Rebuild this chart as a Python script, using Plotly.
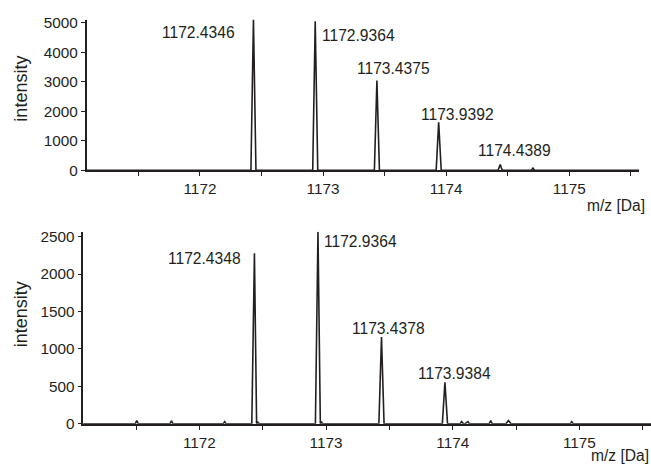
import plotly.graph_objects as go

# ---- data ----
top_mz = [1171.08, 1172.414, 1172.4346, 1172.455, 1172.916, 1172.9364, 1172.957,
          1173.417, 1173.4375, 1173.458, 1173.919, 1173.9392, 1173.960,
          1174.422, 1174.4389, 1174.456, 1174.692, 1174.705, 1174.718, 1175.57]
top_int = [0, 0, 5109, 0, 0, 5053, 0,
           0, 3042, 0, 0, 1625, 0,
           0, 198, 0, 0, 76, 0, 0]

bot_mz = [1171.08, 1171.494, 1171.506, 1171.518, 1171.768, 1171.78, 1171.792,
          1172.188, 1172.2, 1172.212, 1172.414, 1172.4348, 1172.452, 1172.462, 1172.472,
          1172.916, 1172.9364, 1172.955, 1172.965, 1172.975,
          1173.417, 1173.4378, 1173.458, 1173.918, 1173.9384, 1173.959,
          1174.058, 1174.07, 1174.085, 1174.095, 1174.12, 1174.132,
          1174.288, 1174.3, 1174.312, 1174.42, 1174.44, 1174.46,
          1174.928, 1174.94, 1174.952, 1175.57]
bot_int = [0, 0, 45, 0, 0, 40, 0,
           0, 30, 0, 0, 2277, 0, 20, 0,
           0, 2564, 0, 20, 0,
           0, 1160, 0, 0, 554, 0,
           0, 30, 0, 0, 30, 0,
           0, 45, 0, 0, 45, 0,
           0, 30, 0, 0]

top_labels = ["1172.4346", "1172.9364", "1173.4375", "1173.9392", "1174.4389"]
top_label_x = [1172.30, 1172.976, 1173.572, 1174.096, 1174.557]
top_label_y = [4680, 4558, 3438, 1902, 659]
top_label_anchor = ["right", "left", "center", "center", "center"]

bot_labels = ["1172.4348", "1172.9364", "1173.4378", "1173.9384"]
bot_label_x = [1172.343, 1172.966, 1173.496, 1174.014]
bot_label_y = [2208, 2442, 1278, 671]
bot_label_anchor = ["right", "left", "center", "center"]

x_tickvals = [1171.5, 1172, 1172.5, 1173, 1173.5, 1174, 1174.5, 1175, 1175.5]
x_ticktext = ["", "1172", "", "1173", "", "1174", "", "1175", ""]

INK = "#231F20"
FONT = "Liberation Sans, Arial, sans-serif"

fig = go.Figure()
fig.add_trace(go.Scatter(x=top_mz, y=top_int, mode="lines",
                         line=dict(color=INK, width=1.6), xaxis="x", yaxis="y",
                         showlegend=False, hoverinfo="skip"))
fig.add_trace(go.Scatter(x=bot_mz, y=bot_int, mode="lines",
                         line=dict(color=INK, width=1.6), xaxis="x2", yaxis="y2",
                         showlegend=False, hoverinfo="skip"))

axis_common = dict(showline=True, linecolor=INK, linewidth=1.5, ticks="outside",
                   ticklen=4, tickwidth=1.2, tickcolor=INK, showgrid=False,
                   zeroline=False, tickfont=dict(family=FONT, size=15.3, color=INK))

fig.update_layout(
    width=651, height=472,
    margin=dict(l=0, r=0, t=0, b=0),
    paper_bgcolor="white", plot_bgcolor="white",
    xaxis=dict(domain=[86.7/651, 639.3/651], range=[1171.08, 1175.569],
               tickmode="array", tickvals=x_tickvals, ticktext=x_ticktext,
               anchor="y", **axis_common),
    yaxis=dict(domain=[1-170/472, 1-15/472], range=[0, 5109],
               tickmode="array", tickvals=[0, 1000, 2000, 3000, 4000, 5000],
               anchor="x", **axis_common),
    xaxis2=dict(domain=[83.3/651, 1.0], range=[1171.084, 1175.565],
                tickmode="array", tickvals=x_tickvals, ticktext=x_ticktext,
                anchor="y2", **axis_common),
    yaxis2=dict(domain=[1-430.7/472, 1-233.3/472], range=[0, 2564],
                tickmode="array", tickvals=[0, 500, 1000, 1500, 2000, 2500],
                anchor="x2", **axis_common),
)

annotations = []
for t, x, y, a in zip(top_labels, top_label_x, top_label_y, top_label_anchor):
    annotations.append(dict(text=t, x=x, y=y, xref="x", yref="y", xanchor=a,
                            yanchor="middle", showarrow=False,
                            font=dict(family=FONT, size=15.6, color=INK)))
for t, x, y, a in zip(bot_labels, bot_label_x, bot_label_y, bot_label_anchor):
    annotations.append(dict(text=t, x=x, y=y, xref="x2", yref="y2", xanchor=a,
                            yanchor="middle", showarrow=False,
                            font=dict(family=FONT, size=15.6, color=INK)))
# axis titles
for yc in [86, 318]:
    annotations.append(dict(text="intensity", x=21/651, y=1-yc/472, xref="paper",
                            yref="paper", textangle=-90, xanchor="center",
                            yanchor="middle", showarrow=False,
                            font=dict(family=FONT, size=18, color=INK)))
for xr, yc in [(647, 206), (651, 463)]:
    annotations.append(dict(text="m/z [Da]", x=xr/651, y=1-yc/472, xref="paper",
                            yref="paper", xanchor="right", yanchor="middle",
                            showarrow=False,
                            font=dict(family=FONT, size=15.6, color=INK)))
fig.update_layout(annotations=annotations)

fig.write_html("out.html")
